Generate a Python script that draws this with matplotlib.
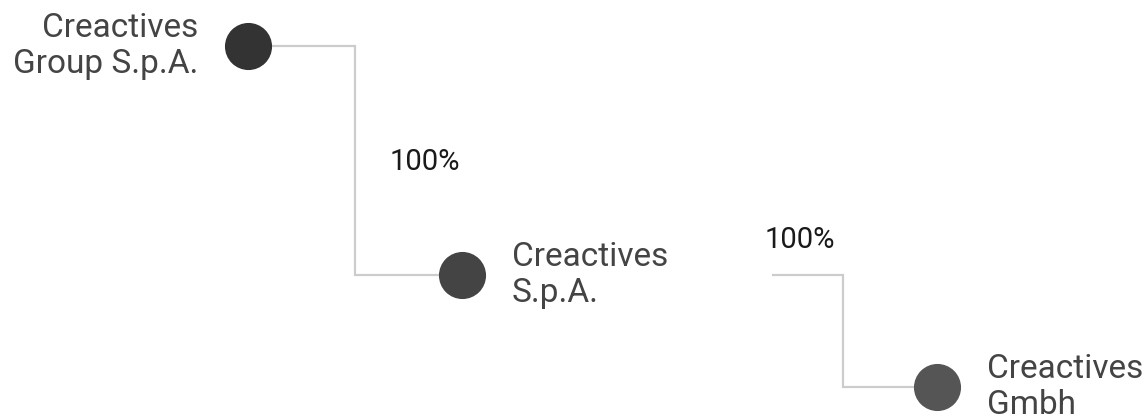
import matplotlib.pyplot as plt

plt.rcParams["font.family"] = ["Roboto", "DejaVu Sans"]

# Company tree (parent -> child, ownership share)
companies = ["Creactives\nGroup S.p.A.", "Creactives\nS.p.A.", "Creactives\nGmbh"]
shares = ["100%", "100%"]
node_colors = ["#333333", "#444444", "#555555"]

# layout in pixel space
node_x = [248, 462, 937]
node_y = [46, 275, 387]
link_start_x = [268, 773]
link_elbow_x = [355, 843]
share_pos = [(390, 162), (765, 240)]
label_side = ["left", "right", "right"]

fig = plt.figure(figsize=(11.46, 4.16), dpi=100)
ax = fig.add_axes([0, 0, 1, 1])
ax.set_xlim(0, 1146)
ax.set_ylim(416, 0)
ax.axis("off")

# elbow connectors
for i in range(len(shares)):
    xs = [link_start_x[i], link_elbow_x[i], link_elbow_x[i], node_x[i + 1]]
    ys = [node_y[i], node_y[i], node_y[i + 1], node_y[i + 1]]
    ax.plot(xs, ys, color="#cccccc", lw=1.6, solid_joinstyle="miter", zorder=1)
    ax.text(share_pos[i][0], share_pos[i][1], shares[i], fontsize=21,
            color="#1a1a1a", ha="left", va="center")

# nodes + labels
for name, x, y, c, side in zip(companies, node_x, node_y, node_colors, label_side):
    ax.scatter([x], [y], s=1150, color=c, zorder=3, linewidths=0)
    if side == "left":
        ax.text(x - 50, y, name, fontsize=24, color="#444444",
                ha="right", va="center", linespacing=1.14)
    else:
        ax.text(x + 50, y, name, fontsize=24, color="#444444",
                ha="left", va="center", linespacing=1.14)

fig.savefig("out.png", dpi=100)
